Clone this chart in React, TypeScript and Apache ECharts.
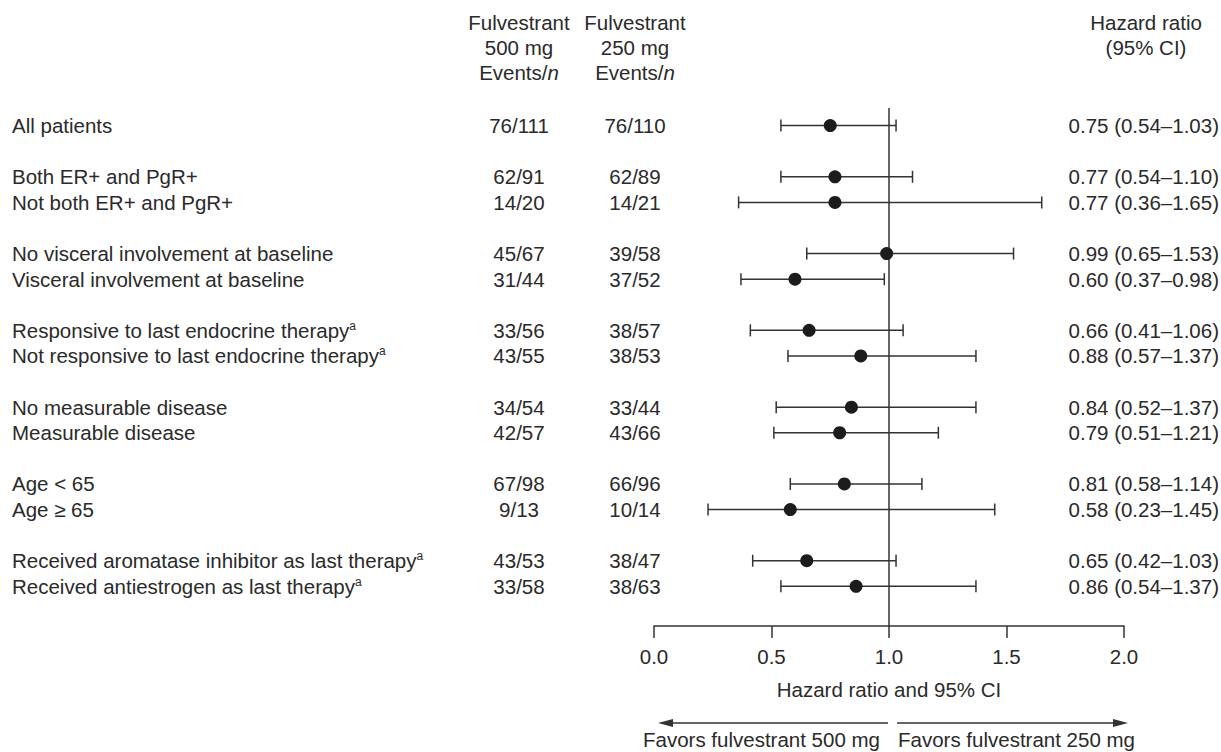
import React, { useEffect, useRef } from "react";
import * as echarts from "echarts";

const labels = [
  "All patients",
  "Both ER+ and PgR+",
  "Not both ER+ and PgR+",
  "No visceral involvement at baseline",
  "Visceral involvement at baseline",
  "Responsive to last endocrine therapy{sup|a}",
  "Not responsive to last endocrine therapy{sup|a}",
  "No measurable disease",
  "Measurable disease",
  "Age < 65",
  "Age ≥ 65",
  "Received aromatase inhibitor as last therapy{sup|a}",
  "Received antiestrogen as last therapy{sup|a}",
];
const rowSlots = [0, 2, 3, 5, 6, 8, 9, 11, 12, 14, 15, 17, 18];
const events500 = ["76/111", "62/91", "14/20", "45/67", "31/44", "33/56", "43/55", "34/54", "42/57", "67/98", "9/13", "43/53", "33/58"];
const events250 = ["76/110", "62/89", "14/21", "39/58", "37/52", "38/57", "38/53", "33/44", "43/66", "66/96", "10/14", "38/47", "38/63"];
const hazard = [0.75, 0.77, 0.77, 0.99, 0.6, 0.66, 0.88, 0.84, 0.79, 0.81, 0.58, 0.65, 0.86];
const ciLow = [0.54, 0.54, 0.36, 0.65, 0.37, 0.41, 0.57, 0.52, 0.51, 0.58, 0.23, 0.42, 0.54];
const ciHigh = [1.03, 1.1, 1.65, 1.53, 0.98, 1.06, 1.37, 1.37, 1.21, 1.14, 1.45, 1.03, 1.37];
const xTicks = [0, 0.5, 1, 1.5, 2];
const referenceHR = 1.0;

const FONT = '"Liberation Sans", Arial, Helvetica, sans-serif';
const FS = 20.5;
const TXT = "#2a2a2a";
const LINE = "#333333";

const hrText = hazard.map(
  (h, i) => `${h.toFixed(2)} (${ciLow[i].toFixed(2)}–${ciHigh[i].toFixed(2)})`
);

const supRich = {
  sup: { fontSize: 12, fontFamily: FONT, fill: TXT, verticalAlign: "top" as const },
};

function textColumn(name: string, texts: string[], x: number, align: "left" | "center" | "right") {
  return {
    type: "custom",
    name,
    silent: true,
    data: rowSlots.map((s, i) => [0, s, i]),
    encode: { x: 0, y: 1 },
    renderItem: (params: any, api: any) => {
      const y = api.coord([0, api.value(1)])[1];
      const i = api.value(2);
      return {
        type: "text",
        style: {
          x,
          y,
          text: texts[i],
          fill: TXT,
          fontSize: FS,
          fontFamily: FONT,
          align,
          verticalAlign: "middle",
          rich: supRich,
        },
      };
    },
  };
}

export default function App() {
  const ref = useRef<HTMLDivElement>(null);
  useEffect(() => {
    if (!ref.current) return;
    const chart = echarts.init(ref.current, undefined, { renderer: "svg" });
    const headerStyle = (text: string, x: number, y: number) => ({
      type: "text",
      x,
      y,
      style: {
        text,
        fill: TXT,
        fontSize: FS,
        fontFamily: FONT,
        align: "center",
        verticalAlign: "middle",
        rich: { i: { fontStyle: "italic", fontSize: FS, fontFamily: FONT, fill: TXT } },
      },
    });
    const option: any = {
      animation: false,
      backgroundColor: "#ffffff",
      grid: { left: 654, right: 97, top: 100, bottom: 126 },
      xAxis: {
        type: "value",
        min: 0,
        max: 2,
        interval: 0.5,
        axisLine: { show: true, onZero: false, lineStyle: { color: LINE, width: 1.5 } },
        axisTick: { show: true, inside: false, length: 12, lineStyle: { color: LINE, width: 1.5 } },
        axisLabel: {
          margin: 20,
          color: TXT,
          fontSize: FS,
          fontFamily: FONT,
          formatter: (v: number) => (xTicks.includes(v) ? v.toFixed(1) : ""),
        },
        splitLine: { show: false },
        name: "Hazard ratio and 95% CI",
        nameLocation: "middle",
        nameGap: 53,
        nameTextStyle: { color: TXT, fontSize: FS, fontFamily: FONT },
      },
      yAxis: {
        type: "value",
        inverse: true,
        min: -1,
        max: 19.55,
        show: false,
      },
      series: [
        {
          type: "line",
          silent: true,
          symbol: "none",
          data: [
            [referenceHR, -0.69],
            [referenceHR, 19.55],
          ],
          lineStyle: { color: LINE, width: 1.5 },
          z: 1,
        },
        {
          type: "custom",
          silent: true,
          data: rowSlots.map((s, i) => [ciLow[i], ciHigh[i], s]),
          encode: { x: [0, 1], y: 2 },
          renderItem: (params: any, api: any) => {
            const y = api.value(2);
            const p1 = api.coord([api.value(0), y]);
            const p2 = api.coord([api.value(1), y]);
            const st = { stroke: LINE, lineWidth: 1.5 };
            return {
              type: "group",
              children: [
                { type: "line", shape: { x1: p1[0], y1: p1[1], x2: p2[0], y2: p2[1] }, style: st },
                { type: "line", shape: { x1: p1[0], y1: p1[1] - 6, x2: p1[0], y2: p1[1] + 6 }, style: st },
                { type: "line", shape: { x1: p2[0], y1: p2[1] - 6, x2: p2[0], y2: p2[1] + 6 }, style: st },
              ],
            };
          },
          z: 2,
        },
        {
          type: "scatter",
          silent: true,
          symbol: "circle",
          symbolSize: 13,
          data: rowSlots.map((s, i) => [hazard[i], s]),
          itemStyle: { color: "#1c1c1c", opacity: 1 },
          z: 3,
        },
        textColumn("labels", labels, 12, "left"),
        textColumn("events500", events500, 519, "center"),
        textColumn("events250", events250, 635, "center"),
        textColumn("hr", hrText, 1219, "right"),
      ],
      graphic: [
        headerStyle("Fulvestrant", 519, 22),
        headerStyle("500 mg", 519, 47),
        headerStyle("Events/{i|n}", 519, 72),
        headerStyle("Fulvestrant", 635, 22),
        headerStyle("250 mg", 635, 47),
        headerStyle("Events/{i|n}", 635, 72),
        headerStyle("Hazard ratio", 1146, 22),
        headerStyle("(95% CI)", 1146, 47),
        {
          type: "line",
          shape: { x1: 888, y1: 723, x2: 670, y2: 723 },
          style: { stroke: LINE, lineWidth: 1.5 },
        },
        {
          type: "polygon",
          shape: { points: [[658, 723], [673, 719], [673, 727]] },
          style: { fill: LINE },
        },
        {
          type: "line",
          shape: { x1: 897, y1: 723, x2: 1115, y2: 723 },
          style: { stroke: LINE, lineWidth: 1.5 },
        },
        {
          type: "polygon",
          shape: { points: [[1128, 723], [1113, 719], [1113, 727]] },
          style: { fill: LINE },
        },
        {
          type: "text",
          x: 880,
          y: 739,
          style: {
            text: "Favors fulvestrant 500 mg",
            fill: TXT,
            fontSize: FS,
            fontFamily: FONT,
            align: "right",
            verticalAlign: "middle",
          },
        },
        {
          type: "text",
          x: 898,
          y: 739,
          style: {
            text: "Favors fulvestrant 250 mg",
            fill: TXT,
            fontSize: FS,
            fontFamily: FONT,
            align: "left",
            verticalAlign: "middle",
          },
        },
      ],
    };
    chart.setOption(option);
    return () => chart.dispose();
  }, []);
  return (
    <div
      ref={ref}
      style={{ position: "fixed", left: 0, top: 0, width: 1221, height: 752, background: "#fff" }}
    />
  );
}
